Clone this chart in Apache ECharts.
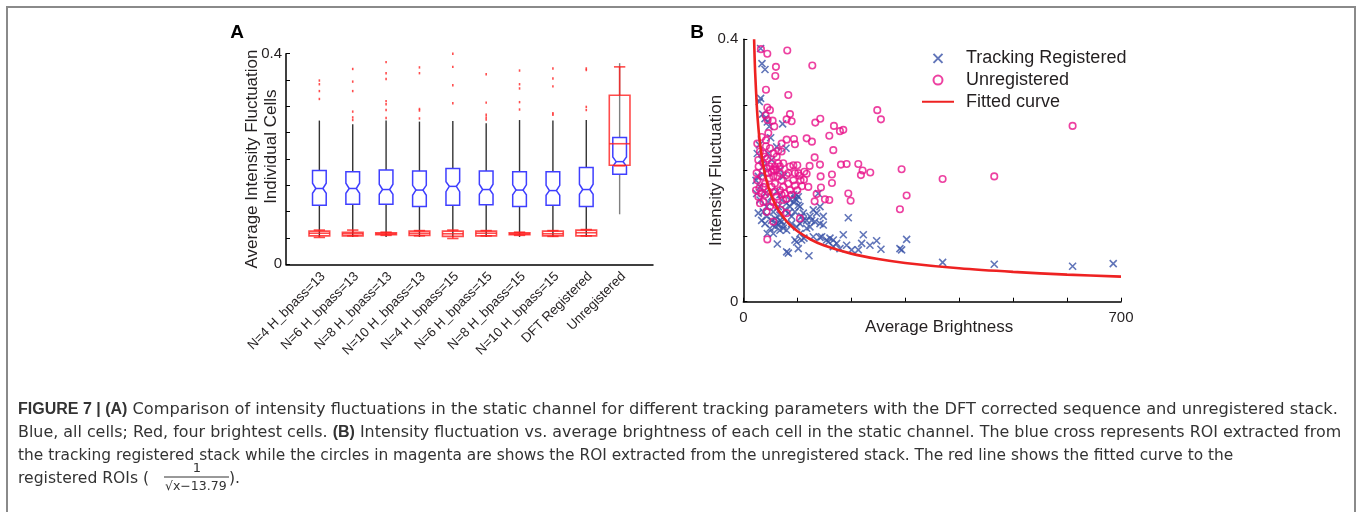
<!DOCTYPE html>
<html><head><meta charset="utf-8">
<script src="https://cdn.jsdelivr.net/npm/echarts@6/dist/echarts.min.js"></script>
<style>html,body{margin:0;padding:0;background:#fff}#c{width:1360px;height:512px}</style>
</head><body><div id="c"></div>
<script>
// ---------- Panel A data ----------
const catsA = ['N=4 H_bpass=13','N=6 H_bpass=13','N=8 H_bpass=13','N=10 H_bpass=13','N=4 H_bpass=15','N=6 H_bpass=15','N=8 H_bpass=15','N=10 H_bpass=15','DFT Registered','Unregistered'];
const blueQ1   = [0.112,0.114,0.114,0.110,0.112,0.113,0.110,0.112,0.110,0.171];
const blueMed  = [0.144,0.144,0.142,0.141,0.148,0.142,0.141,0.140,0.142,0.195];
const blueQ3   = [0.178,0.176,0.179,0.177,0.182,0.177,0.176,0.176,0.184,0.241];
const blueLo   = [0.052,0.052,0.052,0.052,0.052,0.052,0.052,0.052,0.052,0.095];
const blueHi   = [0.273,0.266,0.273,0.271,0.272,0.268,0.274,0.273,0.274,0.382];
const blueNLo  = [0.135,0.135,0.133,0.131,0.138,0.133,0.132,0.131,0.133,0.186];
const blueNHi  = [0.154,0.154,0.152,0.150,0.157,0.152,0.151,0.150,0.152,0.204];
const redQ1    = [0.054,0.054,0.056,0.055,0.053,0.054,0.056,0.054,0.054,0.188];
const redMed   = [0.059,0.058,0.058,0.059,0.058,0.059,0.058,0.058,0.060,0.229];
const redQ3    = [0.063,0.061,0.060,0.063,0.063,0.063,0.060,0.063,0.065,0.321];
const redLo    = [0.051,0.054,0.055,0.054,0.049,0.054,0.055,0.053,0.054,0.187];
const redHi    = [0.065,0.065,0.061,0.064,0.065,0.064,0.061,0.064,0.066,0.375];
const outliers = [
 [1,0.349],[1,0.342],[1,0.329],[1,0.314],
 [2,0.371],[2,0.347],[2,0.329],[2,0.290],[2,0.279],[2,0.274],
 [3,0.384],[3,0.363],[3,0.352],[3,0.310],[3,0.304],[3,0.293],[3,0.278],
 [4,0.374],[4,0.363],[4,0.295],[4,0.292],[4,0.277],
 [5,0.400],[5,0.375],[5,0.340],[5,0.306],
 [6,0.361],[6,0.307],[6,0.284],[6,0.279],[6,0.275],
 [7,0.368],[7,0.342],[7,0.334],[7,0.308],[7,0.294],
 [8,0.372],[8,0.353],[8,0.338],[8,0.287],[8,0.284],
 [9,0.372],[9,0.369],[9,0.299],[9,0.293]
];
const yTicksA = ['0','0.4'];

// ---------- Panel B data ----------
const unregistered = [
 [32.7,0.385],[44.5,0.378],[81.5,0.383],[127.9,0.360],[60.5,0.358],[59.3,0.344],[42.0,0.323],[83.4,0.315],
 [44.5,0.296],[49.4,0.292],[86.5,0.286],[80.3,0.278],[89.6,0.275],[41.4,0.284],[45.1,0.277],[54.4,0.276],
 [57.4,0.267],[46.3,0.257],[42.0,0.246],[71.0,0.241],[80.3,0.247],[93.9,0.248],[95.7,0.240],[117.4,0.249],
 [127.2,0.244],[133.4,0.273],[142.7,0.279],[168.0,0.268],[159.4,0.253],[179.1,0.260],[185.3,0.262],[248.3,0.292],
 [255.1,0.278],[610.3,0.268],[166.8,0.231],[132.2,0.220],[142.1,0.209],[122.9,0.207],[92.7,0.208],[100.1,0.208],
 [181.0,0.209],[191.5,0.210],[213.1,0.210],[221.1,0.200],[235.3,0.197],[218.0,0.193],[293.4,0.202],[369.4,0.187],
 [465.1,0.191],[164.3,0.194],[143.3,0.191],[164.3,0.181],[143.9,0.174],[113.0,0.198],[117.4,0.195],[194.6,0.165],
 [198.9,0.154],[302.7,0.162],[290.3,0.141],[151.3,0.156],[159.4,0.155],[135.9,0.164],[132.2,0.153],[105.0,0.127],
 [44.5,0.095],[55.6,0.122],[103.8,0.192],[95.7,0.177],[100.1,0.170],[108.7,0.176],[112.4,0.186],[120.5,0.175],
 [80.3,0.135],[69.2,0.140],[61.8,0.147],[25.9,0.241],[30.9,0.229],[27.8,0.216],[28.4,0.206],[24.7,0.196],
 [25.9,0.185],[23.5,0.170],[27.8,0.160],[30.9,0.150],[34.0,0.191],[37.1,0.211],[40.2,0.221],[43.2,0.203],
 [46.3,0.196],[49.4,0.206],[52.5,0.198],[55.6,0.191],[58.7,0.206],[61.8,0.201],[64.9,0.211],[58.7,0.180],
 [52.5,0.175],[46.3,0.168],[40.2,0.163],[37.1,0.175],[67.9,0.196],[71.0,0.185],[74.1,0.175],[77.2,0.165],
 [80.3,0.193],[83.4,0.180],[86.5,0.170],[89.6,0.163],[92.7,0.185],[95.7,0.196],[67.9,0.170],[61.8,0.160],
 [55.6,0.152],[49.4,0.145],[43.2,0.137],[37.1,0.152],[74.1,0.155],[80.3,0.157],[44.5,0.218],[56.8,0.226],
 [64.9,0.230],[71.0,0.229],[49.4,0.234],[42.0,0.237],[34.0,0.251],[67.9,0.206],[74.1,0.211],[86.5,0.206],
 [83.4,0.196],[101.9,0.196],[106.2,0.185],[37.1,0.226],[61.8,0.221],[40.2,0.180],[52.5,0.211],[55.6,0.201],
 [48.2,0.188],[63.0,0.191],[29.7,0.173],[34.0,0.165],[71.0,0.163],[58.7,0.168]
];
const trackingRegistered = [
 [32.1,0.386],[34.6,0.363],[40.2,0.354],[32.1,0.310],[29.7,0.305],[35.8,0.286],[40.2,0.279],[44.5,0.274],
 [48.2,0.267],[50.7,0.250],[72.9,0.271],[79.1,0.234],[29.7,0.239],[25.9,0.226],[34.0,0.217],[37.1,0.206],
 [27.8,0.191],[23.5,0.185],[30.9,0.175],[40.2,0.165],[46.3,0.152],[27.8,0.135],[43.2,0.130],[52.5,0.124],
 [58.7,0.114],[61.8,0.119],[67.9,0.124],[74.1,0.112],[80.3,0.109],[86.5,0.145],[92.7,0.152],[98.8,0.155],
 [101.9,0.147],[95.7,0.137],[89.6,0.130],[105.0,0.119],[111.2,0.124],[117.4,0.124],[123.5,0.130],[129.7,0.140],
 [135.9,0.135],[142.1,0.145],[148.2,0.130],[139.0,0.165],[142.1,0.119],[148.2,0.117],[123.5,0.114],[117.4,0.112],
 [105.0,0.104],[95.7,0.094],[101.9,0.081],[112.4,0.097],[121.7,0.070],[80.3,0.076],[83.4,0.074],[63.0,0.088],
 [44.5,0.104],[129.7,0.099],[142.1,0.098],[160.6,0.097],[166.8,0.094],[173.0,0.089],[185.3,0.102],[191.5,0.086],
 [194.6,0.128],[200.8,0.079],[213.1,0.079],[219.3,0.089],[222.4,0.102],[234.7,0.086],[247.1,0.093],[255.1,0.080],
 [290.3,0.081],[293.4,0.079],[302.7,0.095],[369.4,0.060],[465.1,0.057],[610.3,0.054],[685.6,0.058],[166.8,0.084],
 [179.1,0.081],[157.5,0.091],[67.9,0.109],[74.1,0.117],[49.4,0.112],[55.6,0.137],[64.9,0.145],[71.0,0.155],
 [80.3,0.150],[83.4,0.135],[61.8,0.168],[67.9,0.163],[52.5,0.160],[43.2,0.145],[37.1,0.137],[34.0,0.124],
 [67.9,0.132],[77.2,0.140],[89.6,0.119],[98.8,0.114],[108.1,0.130],[126.6,0.124],[132.8,0.122],[145.2,0.099],
 [154.4,0.094],[98.8,0.091],[108.1,0.094],[55.6,0.104],[40.2,0.119],[30.9,0.155],[24.7,0.165],[35.8,0.194],
 [46.3,0.226],[52.5,0.216],[61.8,0.236],[67.9,0.201],[74.1,0.191],[92.7,0.163],[98.8,0.163],[95.7,0.157],
 [101.9,0.160],[86.5,0.155],[105.0,0.145],[111.2,0.135],[58.7,0.127],[64.9,0.117],[71.0,0.122]
];
const fitX = [20.04,21,22,25,27,30,35,40,45,50,60,75,85,100,125,150,200,250,300,400,500,600,700];
const fitY = [0.400,0.372,0.349,0.299,0.275,0.248,0.217,0.195,0.179,0.166,0.147,0.128,0.1185,0.1077,0.0948,0.0857,0.0733,0.0651,0.0591,0.0509,0.0454,0.0413,0.0382];
const xTicksB = [0, 700];
const yTicksB = ['0','0.4'];

// ---------- chart ----------
const FONT = 'Liberation Sans, Arial, Helvetica, sans-serif';
const CAP = 'DejaVu Sans, sans-serif';
const TXT = '#231f20';
const chart = echarts.init(document.getElementById('c'), null, {renderer:'canvas'});

const blueData = catsA.map((c,i)=>[i+1, blueQ1[i], blueMed[i], blueQ3[i], blueLo[i], blueHi[i], blueNLo[i], blueNHi[i]]);
const redData = catsA.map((c,i)=>[i+1, redQ1[i], redMed[i], redQ3[i], redLo[i], redHi[i]]);

function renderBlue(params, api){
  const x = api.value(0), q1=api.value(1), md=api.value(2), q3=api.value(3), lo=api.value(4), hi=api.value(5), nl=api.value(6), nh=api.value(7);
  const h=0.205, n=0.105;
  const P=(a,b)=>api.coord([a,b]);
  const poly=[P(x-h,q3),P(x+h,q3),P(x+h,nh),P(x+n,md),P(x+h,nl),P(x+h,q1),P(x-h,q1),P(x-h,nl),P(x-n,md),P(x-h,nh)];
  const wcol = x===10 ? '#808080' : '#333';
  return {type:'group', children:[
    {type:'line', shape:{x1:P(x,q3)[0],y1:P(x,q3)[1],x2:P(x,hi)[0],y2:P(x,hi)[1]}, style:{stroke:wcol,lineWidth:1.4}},
    {type:'line', shape:{x1:P(x,q1)[0],y1:P(x,q1)[1],x2:P(x,lo)[0],y2:P(x,lo)[1]}, style:{stroke:wcol,lineWidth:1.4}},
    {type:'polygon', shape:{points:poly}, style:{fill:'none',stroke:'#3f3fff',lineWidth:1.5}},
    {type:'line', shape:{x1:P(x-n,md)[0],y1:P(x-n,md)[1],x2:P(x+n,md)[0],y2:P(x+n,md)[1]}, style:{stroke:'#3f3fff',lineWidth:1.5}}
  ]};
}
function renderRed(params, api){
  const x = api.value(0), q1=api.value(1), md=api.value(2), q3=api.value(3), lo=api.value(4), hi=api.value(5);
  const h=0.31, c=0.17;
  const P=(a,b)=>api.coord([a,b]);
  const a=P(x-h,q3), b=P(x+h,q1);
  const st={stroke:'rgba(255,30,30,0.8)',lineWidth:1.6,fill:'none'};
  return {type:'group', children:[
    {type:'line', shape:{x1:P(x,q3)[0],y1:P(x,q3)[1],x2:P(x,hi)[0],y2:P(x,hi)[1]}, style:st},
    {type:'line', shape:{x1:P(x,q1)[0],y1:P(x,q1)[1],x2:P(x,lo)[0],y2:P(x,lo)[1]}, style:st},
    {type:'line', shape:{x1:P(x-c,hi)[0],y1:P(x-c,hi)[1],x2:P(x+c,hi)[0],y2:P(x+c,hi)[1]}, style:st},
    {type:'line', shape:{x1:P(x-c,lo)[0],y1:P(x-c,lo)[1],x2:P(x+c,lo)[0],y2:P(x+c,lo)[1]}, style:st},
    {type:'rect', shape:{x:a[0],y:a[1],width:b[0]-a[0],height:b[1]-a[1]}, style:st},
    {type:'line', shape:{x1:P(x-h,md)[0],y1:P(x-h,md)[1],x2:P(x+h,md)[0],y2:P(x+h,md)[1]}, style:st}
  ]};
}

const axisLineStyle = {lineStyle:{color:'#000',width:1.5}};
const option = {
  animation:false,
  grid:[
    {left:286, top:53.7, width:367, height:210.6},
    {left:743.3, top:39.3, width:377.7, height:262.4}
  ],
  xAxis:[
    {gridIndex:0, type:'value', min:0, max:11, interval:1,
     axisLine:axisLineStyle, axisTick:{show:false}, splitLine:{show:false},
     axisLabel:{rotate:45, margin:14, padding:[0,-5.5,0,0], fontSize:13.3, fontFamily:FONT, color:TXT, formatter:v=>catsA[v-1]||''}},
    {gridIndex:1, type:'value', min:0, max:700, interval:100,
     axisLine:axisLineStyle, axisTick:{inside:true,length:4,lineStyle:{color:'#000'}}, splitLine:{show:false},
     axisLabel:{margin:9, fontSize:15, fontFamily:FONT, color:TXT, formatter:v=>xTicksB.includes(v)?String(v):''},
     name:'Average Brightness', nameLocation:'middle', nameGap:17, nameMoveOverlap:false,
     nameTextStyle:{fontSize:17,fontFamily:FONT,color:TXT,verticalAlign:'top',padding:[0,0,0,14]}}
  ],
  yAxis:[
    {gridIndex:0, type:'value', min:0, max:0.4, interval:0.05,
     axisLine:{show:true,lineStyle:{color:'#000',width:1.5}}, axisTick:{inside:true,length:4,lineStyle:{color:'#000'}}, splitLine:{show:false},
     axisLabel:{margin:4, fontSize:15, fontFamily:FONT, color:TXT, formatter:v=>{const s=+v.toFixed(2); return s===0?yTicksA[0]:(s===0.4?yTicksA[1]:'');}},
     name:'Average Intensity Fluctuation', nameLocation:'middle', nameGap:25, nameMoveOverlap:false,
     nameTextStyle:{fontSize:17,fontFamily:FONT,color:TXT}},
    {gridIndex:1, type:'value', min:0, max:0.4, interval:0.1,
     axisLine:{show:true,lineStyle:{color:'#000',width:1.5}}, axisTick:{inside:true,length:4,lineStyle:{color:'#000'}}, splitLine:{show:false},
     axisLabel:{margin:5, fontSize:15, fontFamily:FONT, color:TXT, formatter:v=>{const s=+v.toFixed(2); return s===0?yTicksB[0]:(s===0.4?yTicksB[1]:'');}},
     name:'Intensity Fluctuation', nameLocation:'middle', nameGap:18, nameMoveOverlap:false,
     nameTextStyle:{fontSize:17,fontFamily:FONT,color:TXT}}
  ],
  legend:{
    orient:'vertical', left:921, top:47.5, padding:0, itemWidth:32, itemHeight:9, itemGap:0,
    data:['Tracking Registered','Unregistered',{name:'Fitted curve', itemStyle:{opacity:0}}],
    textStyle:{fontSize:18,fontFamily:FONT,color:TXT,lineHeight:21.7,padding:[0,0,0,7]}
  },
  series:[
    {type:'custom', name:'blue', xAxisIndex:0, yAxisIndex:0, data:blueData, renderItem:renderBlue, z:2},
    {type:'custom', name:'red', xAxisIndex:0, yAxisIndex:0, data:redData, renderItem:renderRed, z:3},
    {type:'scatter', name:'out', xAxisIndex:0, yAxisIndex:0, data:outliers, symbol:'rect', symbolSize:[1.6,2.4], itemStyle:{color:'#ff2020'}, z:4},
    {type:'scatter', name:'Tracking Registered', xAxisIndex:1, yAxisIndex:1, data:trackingRegistered,
     symbol:'path://M0,0L10,10M0,10L10,0', symbolSize:7, itemStyle:{color:'rgba(0,0,0,0)',borderColor:'#3a52a8',borderWidth:1.6}, z:2},
    {type:'scatter', name:'Unregistered', xAxisIndex:1, yAxisIndex:1, data:unregistered,
     symbol:'circle', symbolSize:6.5, itemStyle:{color:'rgba(0,0,0,0)',borderColor:'#e8118a',borderWidth:1.6}, z:3},
    {type:'line', name:'Fitted curve', xAxisIndex:1, yAxisIndex:1, data:fitX.map((x,i)=>[x,fitY[i]]), smooth:0.3,
     showSymbol:false, symbol:'none', lineStyle:{color:'#ee2222',width:2.6}, itemStyle:{color:'#ee2222'}, z:5}
  ],
  graphic:[
    {type:'rect', shape:{x:7,y:7,width:1348,height:530}, style:{fill:'none',stroke:'#8a8a8a',lineWidth:2}, silent:true},
    {type:'text', x:237, y:33, style:{text:'A', font:'bold 19px '+FONT, fill:'#000', align:'center', verticalAlign:'middle'}},
    {type:'text', x:697, y:33, style:{text:'B', font:'bold 19px '+FONT, fill:'#000', align:'center', verticalAlign:'middle'}},
    {type:'text', x:271.7, y:146.7, rotation:Math.PI/2, style:{text:'Individual Cells', font:'17px '+FONT, fill:TXT, align:'center', verticalAlign:'middle'}},
    {type:'text', x:18, y:410, style:{text:'{b|FIGURE 7 | (A)} Comparison of intensity fluctuations in the static channel for different tracking parameters with the DFT corrected sequence and unregistered stack.', font:'16.2px '+CAP, fill:'#333', verticalAlign:'middle', rich:{b:{fontWeight:'bold',fontSize:16,fontFamily:FONT,fill:'#333'}}}},
    {type:'text', x:18, y:433, style:{text:'Blue, all cells; Red, four brightest cells. {b|(B)} Intensity fluctuation vs. average brightness of each cell in the static channel. The blue cross represents ROI extracted from', font:'15.9px '+CAP, fill:'#333', verticalAlign:'middle', rich:{b:{fontWeight:'bold',fontSize:16,fontFamily:FONT,fill:'#333'}}}},
    {type:'text', x:18, y:456, style:{text:'the tracking registered stack while the circles in magenta are shows the ROI extracted from the unregistered stack. The red line shows the fitted curve to the', font:'15.4px '+CAP, fill:'#333', verticalAlign:'middle'}},
    {type:'text', x:18, y:479, style:{text:'registered ROIs (', font:'15.6px '+CAP, fill:'#333', verticalAlign:'middle'}},
    {type:'text', x:197, y:469, style:{text:'1', font:'13px '+CAP, fill:'#333', align:'center', verticalAlign:'middle'}},
    {type:'line', shape:{x1:164,y1:477,x2:229,y2:477}, style:{stroke:'#333',lineWidth:1}},
    {type:'text', x:165, y:487, style:{text:'\u221Ax\u221213.79', font:'12.5px '+CAP, fill:'#333', verticalAlign:'middle'}},
    {type:'text', x:229, y:479, style:{text:').', font:'15.6px '+CAP, fill:'#333', verticalAlign:'middle'}}
  ]
};
chart.setOption(option);
</script>
</body></html>
